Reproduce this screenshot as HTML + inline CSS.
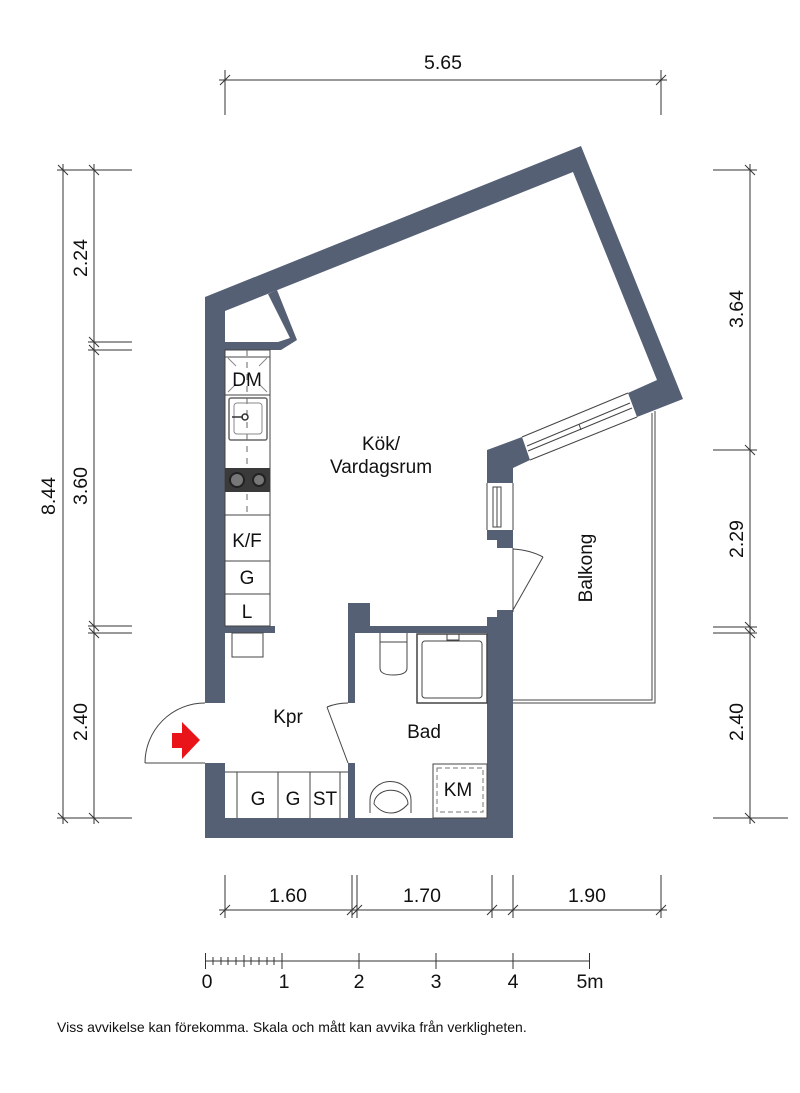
<!DOCTYPE html>
<html><head><meta charset="utf-8"><style>
html,body{margin:0;padding:0;background:#fff;}
svg{display:block;}
text{font-family:"Liberation Sans",Arial,sans-serif;fill:#111;}
</style></head><body>
<svg width="800" height="1093" viewBox="0 0 800 1093" xmlns="http://www.w3.org/2000/svg">
<g fill="#556075">
<polygon points="205,297 581,146 683,399 637,417 628,393 657,380 573,172 225,311 225,703 205,703"/>
<polygon points="268,294 277,290 297,340 281,350 225,350 225,342 278,342 290,338"/>
<rect x="225" y="626" width="50" height="7"/>
<rect x="205" y="763" width="20" height="75"/>
<rect x="205" y="818" width="308" height="20"/>
<rect x="487" y="617" width="26" height="221"/>
<rect x="497" y="610" width="16" height="8"/>
<rect x="348" y="626" width="139" height="7"/>
<rect x="348" y="603" width="22" height="30"/>
<rect x="348" y="603" width="7" height="100"/>
<rect x="348" y="763" width="7" height="55"/>
<polygon points="487,450 522,437 530,460 513,468 513,483 487,483"/>
<polygon points="487,530 513,530 513,548 497,548 497,540 487,540"/>
</g>
<g fill="none" stroke="#444" stroke-width="1">
<line x1="522" y1="437" x2="628" y2="393"/>
<line x1="530" y1="460" x2="637" y2="417"/>
<line x1="527" y1="446" x2="630" y2="403"/>
<line x1="528" y1="451" x2="632" y2="408"/>
<line x1="579" y1="424" x2="581" y2="430"/>
<rect x="493" y="487" width="8" height="40"/>
<line x1="497" y1="487" x2="497" y2="527"/>
<line x1="487" y1="483" x2="487" y2="530"/>
<line x1="513" y1="483" x2="513" y2="530"/>
<line x1="513" y1="548" x2="513" y2="612"/>
<line x1="513" y1="610" x2="543" y2="557"/>
<path d="M513,549 Q530,550 543,557"/>
<polyline points="652,413 652,700 513,700"/>
<polyline points="655,411 655,703 513,703"/>
<rect x="225" y="350" width="45" height="276"/>
<line x1="225" y1="357" x2="270" y2="357"/>
<line x1="225" y1="395" x2="270" y2="395"/>
<line x1="225" y1="515" x2="270" y2="515"/>
<line x1="225" y1="561" x2="270" y2="561"/>
<line x1="225" y1="594" x2="270" y2="594"/>
<line x1="247" y1="350" x2="247" y2="515" stroke-dasharray="6,6" stroke="#666"/>
<line x1="228" y1="358" x2="236" y2="366" stroke="#888"/><line x1="267" y1="358" x2="259" y2="366" stroke="#888"/>
<line x1="228" y1="392" x2="236" y2="384" stroke="#888"/><line x1="267" y1="392" x2="259" y2="384" stroke="#888"/>
<rect x="229" y="398" width="38" height="42" rx="2" stroke="#666" stroke-width="1.5"/>
<rect x="234" y="403" width="28" height="31" rx="3" stroke="#888"/>
<rect x="232" y="633" width="31" height="24"/>
<path d="M205,703 A60,60 0 0 0 145,763"/>
<line x1="145" y1="763" x2="205" y2="763"/>
<line x1="225" y1="772" x2="348" y2="772"/>
<line x1="237" y1="772" x2="237" y2="818"/>
<line x1="278" y1="772" x2="278" y2="818"/>
<line x1="310" y1="772" x2="310" y2="818"/>
<line x1="340" y1="772" x2="340" y2="818"/>
<line x1="327" y1="707" x2="348" y2="763"/>
<path d="M327,707 Q337,703 348,703"/>
<path d="M380,633 L380,668 Q380,675 393,675 Q407,675 407,668 L407,633"/>
<line x1="380" y1="642" x2="407" y2="642"/>
<rect x="417" y="634" width="70" height="69" stroke-width="1.5"/>
<rect x="422" y="641" width="60" height="57" rx="3"/>
<rect x="447" y="634" width="12" height="6"/>
<path d="M370,813 L370,800 A20,18 0 0 1 411,800 L411,813"/>
<path d="M374,804 A16,13 0 0 1 408,804 Q400,813 391,813 Q381,813 374,804"/>
<rect x="433" y="764" width="54" height="54"/>
<rect x="437" y="768" width="46" height="44" stroke-dasharray="5,3" stroke="#777"/>
</g>
<g fill="#3a3a3a">
<rect x="225" y="468" width="45" height="24"/>
</g>
<circle cx="237" cy="480" r="7" fill="#777" stroke="#222" stroke-width="2"/>
<circle cx="259" cy="480" r="6" fill="#777" stroke="#222" stroke-width="2"/>
<circle cx="245" cy="417" r="3" fill="none" stroke="#333" stroke-width="1.5"/>
<line x1="232" y1="417" x2="243" y2="417" stroke="#333" stroke-width="1.5"/>
<polygon points="172,733 182,733 182,722 200,740 182,759 182,748 172,748" fill="#e8141a"/>
<g font-size="19" text-anchor="middle">
<text x="247" y="386">DM</text>
<text x="247" y="547">K/F</text>
<text x="247" y="584">G</text>
<text x="247" y="618">L</text>
<text x="381" y="450">Kök/</text>
<text x="381" y="473">Vardagsrum</text>
<text x="288" y="723">Kpr</text>
<text x="424" y="738">Bad</text>
<text x="258" y="805">G</text>
<text x="293" y="805">G</text>
<text x="325" y="805">ST</text>
<text x="458" y="796">KM</text>
<text transform="translate(592,568) rotate(-90)">Balkong</text>
</g>
<g stroke="#333" stroke-width="1" fill="none">
<line x1="219" y1="80" x2="667" y2="80"/>
<line x1="225" y1="70" x2="225" y2="115"/><line x1="661" y1="70" x2="661" y2="115"/>
<line x1="220" y1="85" x2="230" y2="75"/><line x1="656" y1="85" x2="666" y2="75"/>
<line x1="63" y1="164" x2="63" y2="824"/>
<line x1="94" y1="164" x2="94" y2="824"/>
<line x1="57" y1="170" x2="132" y2="170"/>
<line x1="88" y1="342" x2="132" y2="342"/><line x1="88" y1="350" x2="132" y2="350"/>
<line x1="88" y1="626" x2="132" y2="626"/><line x1="88" y1="633" x2="132" y2="633"/>
<line x1="57" y1="818" x2="132" y2="818"/>
<line x1="58" y1="165" x2="68" y2="175"/><line x1="89" y1="165" x2="99" y2="175"/>
<line x1="89" y1="337" x2="99" y2="347"/><line x1="89" y1="345" x2="99" y2="355"/>
<line x1="89" y1="621" x2="99" y2="631"/><line x1="89" y1="628" x2="99" y2="638"/>
<line x1="58" y1="813" x2="68" y2="823"/><line x1="89" y1="813" x2="99" y2="823"/>
<line x1="750" y1="164" x2="750" y2="824"/>
<line x1="713" y1="170" x2="757" y2="170"/>
<line x1="713" y1="450" x2="757" y2="450"/>
<line x1="713" y1="627" x2="757" y2="627"/><line x1="713" y1="633" x2="757" y2="633"/>
<line x1="713" y1="818" x2="788" y2="818"/>
<line x1="745" y1="165" x2="755" y2="175"/><line x1="745" y1="445" x2="755" y2="455"/>
<line x1="745" y1="622" x2="755" y2="632"/><line x1="745" y1="628" x2="755" y2="638"/>
<line x1="745" y1="813" x2="755" y2="823"/>
<line x1="219" y1="910" x2="667" y2="910"/>
<line x1="225" y1="875" x2="225" y2="918"/><line x1="352" y1="875" x2="352" y2="918"/>
<line x1="357" y1="875" x2="357" y2="918"/><line x1="492" y1="875" x2="492" y2="918"/>
<line x1="513" y1="875" x2="513" y2="918"/><line x1="661" y1="875" x2="661" y2="918"/>
<line x1="220" y1="915" x2="230" y2="905"/><line x1="347" y1="915" x2="357" y2="905"/>
<line x1="352" y1="915" x2="362" y2="905"/><line x1="487" y1="915" x2="497" y2="905"/>
<line x1="508" y1="915" x2="518" y2="905"/><line x1="656" y1="915" x2="666" y2="905"/>
<line x1="205" y1="961" x2="590" y2="961"/>
<line x1="205.5" y1="953" x2="205.5" y2="969"/><line x1="282" y1="953" x2="282" y2="969"/>
<line x1="359" y1="953" x2="359" y2="969"/><line x1="436" y1="953" x2="436" y2="969"/>
<line x1="513" y1="953" x2="513" y2="969"/><line x1="589.5" y1="953" x2="589.5" y2="969"/>
<line x1="213" y1="957" x2="213" y2="965"/><line x1="221" y1="957" x2="221" y2="965"/>
<line x1="228" y1="957" x2="228" y2="965"/><line x1="236" y1="957" x2="236" y2="965"/>
<line x1="244" y1="955" x2="244" y2="967"/><line x1="251" y1="957" x2="251" y2="965"/>
<line x1="259" y1="957" x2="259" y2="965"/><line x1="267" y1="957" x2="267" y2="965"/>
<line x1="274" y1="957" x2="274" y2="965"/>
</g>
<g font-size="19.5" text-anchor="middle">
<text x="443" y="69">5.65</text>
<text x="288" y="902">1.60</text>
<text x="422" y="902">1.70</text>
<text x="587" y="902">1.90</text>
<text transform="translate(55,496) rotate(-90)">8.44</text>
<text transform="translate(87,258) rotate(-90)">2.24</text>
<text transform="translate(87,486) rotate(-90)">3.60</text>
<text transform="translate(87,722) rotate(-90)">2.40</text>
<text transform="translate(743,309) rotate(-90)">3.64</text>
<text transform="translate(743,539) rotate(-90)">2.29</text>
<text transform="translate(743,722) rotate(-90)">2.40</text>
<text x="207" y="988">0</text>
<text x="284" y="988">1</text>
<text x="359" y="988">2</text>
<text x="436" y="988">3</text>
<text x="513" y="988">4</text>
<text x="590" y="988">5m</text>
</g>
<text x="57" y="1032" font-size="14">Viss avvikelse kan förekomma. Skala och mått kan avvika från verkligheten.</text>
</svg>
</body></html>
